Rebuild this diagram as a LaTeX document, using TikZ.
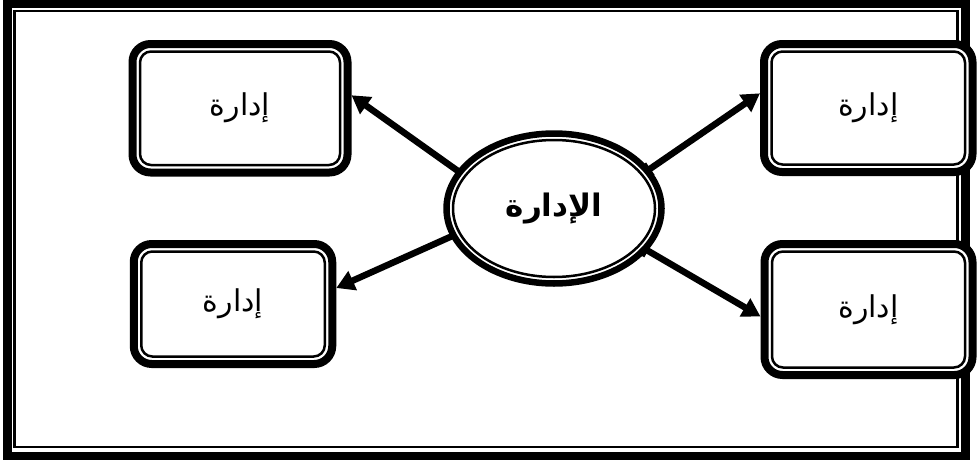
\documentclass[tikz,border=0pt]{standalone}
\usepackage{fontspec}
\usetikzlibrary{shapes.geometric,arrows.meta,calc}
\TeXXeTstate=1
\newfontfamily\arabicfont[Script=Arabic]{DejaVu Sans}
\tikzset{
  outerbox/.style={draw, fill=white, line width=8pt, rounded corners=18pt, inner sep=0pt,
    font=\arabicfont\fontsize{30}{34}\selectfont},
  innerbox/.style={draw, line width=2.5pt, rounded corners=11pt, inner sep=0pt},
  link/.style={line width=6.5pt, -{Triangle[length=18pt,width=20pt]}},
  linkbar/.style={line width=6.5pt, {Bar[width=15pt,line width=4pt]}-{Triangle[length=18pt,width=20pt]}},
}
\begin{document}
\begin{tikzpicture}[x=1pt,y=-1pt]
\useasboundingbox (0,0) rectangle (979,463);
% outer frame
\draw[line width=8.5pt] (7.5,3.5) rectangle (965.5,456);
\draw[line width=2.5pt] (14.7,11) rectangle (957.5,447.2);
% boxes
\node[outerbox, minimum width=215pt, minimum height=128.5pt] (tl) at (240,108.25) {\beginR إدارة\endR};
\node[innerbox, minimum width=200pt, minimum height=113.5pt] (tli) at (tl.center) {};
\node[outerbox, minimum width=198.5pt, minimum height=120pt] (bl) at (233,304) {\beginR إدارة\endR};
\node[innerbox, minimum width=183.5pt, minimum height=105pt] (bli) at (bl.center) {};
\node[outerbox, minimum width=208.5pt, minimum height=128pt] (tr) at (868.25,108) {\beginR إدارة\endR};
\node[innerbox, minimum width=193.5pt, minimum height=113pt] (tri) at (tr.center) {};
\node[outerbox, minimum width=208pt, minimum height=131pt] (br) at (868.5,309.5) {\beginR إدارة\endR};
\node[innerbox, minimum width=193pt, minimum height=116pt] (bri) at (br.center) {};
% central ellipse
\node[ellipse, draw, fill=white, line width=6.5pt, outer sep=0pt, inner sep=0pt,
  minimum width=215pt, minimum height=150pt,
  font=\arabicfont\bfseries\fontsize{31}{36}\selectfont] (ell) at (554,208.5) {\beginR الإدارة\endR};
\node[ellipse, draw, line width=2.5pt, inner sep=0pt,
  minimum width=202pt, minimum height=137pt] (elli) at (ell.center) {};
% connectors
\draw[link] (ell.159) -- ([yshift=13pt]tl.east);
\draw[link] (ell.195) -- ([yshift=16pt]bl.east);
\draw[linkbar] (ell.22) -- ([yshift=14.7pt]tr.west);
\draw[linkbar] (ell.-24) -- ([yshift=-7pt]br.west);
\end{tikzpicture}
\end{document}
